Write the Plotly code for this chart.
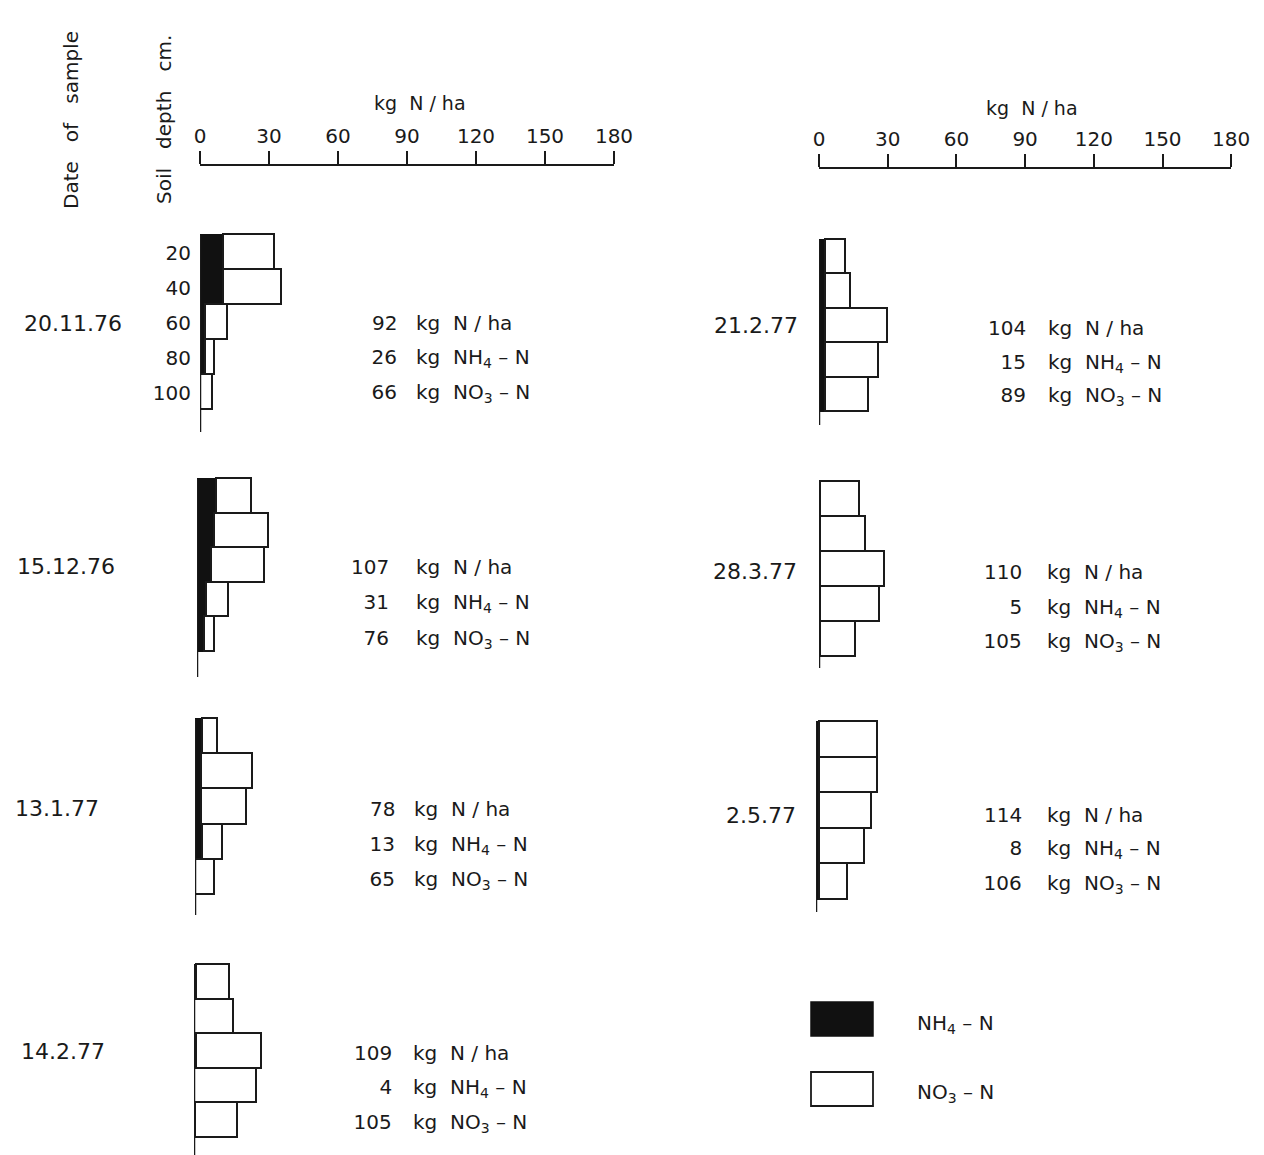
import plotly.graph_objects as go

# ---------------- data ----------------
depths = [20, 40, 60, 80, 100]
dates = ["20.11.76", "15.12.76", "13.1.77", "14.2.77", "21.2.77", "28.3.77", "2.5.77"]
nh4_by_date = [
    [10.5, 10.5, 2.5, 2.5, 0],
    [8.5, 8, 6.5, 4.5, 3.5],
    [3.5, 3, 3, 3.5, 0],
    [1.5, 0, 1.5, 0, 1],
    [3, 3, 3, 3, 3],
    [1, 1, 1, 1, 1],
    [1.6, 1.6, 1.6, 1.6, 1.6],
]
no3_by_date = [
    [22, 25, 9.5, 4, 5.5],
    [15.5, 23.5, 23, 9.5, 4.5],
    [6.5, 22, 19.5, 8.5, 8.5],
    [14, 17.5, 28, 27.5, 18],
    [9, 11, 27, 23, 19],
    [17, 19.5, 28, 25.5, 15],
    [25.4, 25.4, 22.9, 19.9, 12.4],
]
total_n = [92, 107, 78, 109, 104, 110, 114]
total_nh4 = [26, 31, 13, 4, 15, 5, 8]
total_no3 = [66, 76, 65, 105, 89, 105, 106]
x_ticks = [0, 30, 60, 90, 120, 150, 180]

# ---------------- layout geometry (pixels) ----------------
W, H = 1264, 1155
def fx(p): return p / W
def fy(p): return 1 - p / H

# per panel: baseline x, px per kg, bar top, bar bottom, axis-line bottom
panels = [
    (200, 2.30, 235, 410, 432),
    (197, 2.30, 479, 652, 677),
    (195, 2.30, 719, 895, 915),
    (194, 2.30, 965, 1138, 1155),
    (819, 2.29, 240, 412, 425),
    (819, 2.29, 482, 657, 668),
    (816, 2.29, 722, 900, 912),
]
date_pos = [(73, 323, "center"), (66, 566, "center"), (57, 808, "center"), (63, 1051, "center"),
            (800, 326, "right"), (799, 571, "right"), (798, 815, "right")]
summary_pos = [  # number right edge x, text left x, y of 3 lines
    (399, 414, (323, 358, 393)),
    (391, 414, (567, 603, 639)),
    (397, 412, (809, 845, 880)),
    (394, 411, (1053, 1088, 1123)),
    (1028, 1046, (328, 363, 396)),
    (1024, 1045, (572, 608, 642)),
    (1024, 1045, (815, 849, 884)),
]

FONT = "DejaVu Sans"
INK = "#1a1a1a"

fig = go.Figure()
layout = dict(
    width=W, height=H, margin=dict(l=0, r=0, t=0, b=0, pad=0), autosize=False,
    paper_bgcolor="white", plot_bgcolor="rgba(0,0,0,0)",
    barmode="stack", showlegend=False, bargap=0,
    font=dict(family=FONT, color=INK, size=20),
)
annotations = []
shapes = []

centers = [d - 10 for d in depths]
PAD = 3  # px of head-room above the first bar so its outline is not clipped

for i in range(7):
    bx, ppk, top, bot, lbot = panels[i]
    k = i + 1
    xa = "x" if k == 1 else f"x{k}"
    ya = "y" if k == 1 else f"y{k}"
    fig.add_trace(go.Bar(
        orientation="h", y=centers, x=nh4_by_date[i], width=20,
        marker=dict(color="#111111", line=dict(color="#111111", width=1.5)),
        xaxis=xa, yaxis=ya, name="NH4-N"))
    fig.add_trace(go.Bar(
        orientation="h", y=centers, x=no3_by_date[i], width=20,
        marker=dict(color="white", line=dict(color=INK, width=1.8)),
        xaxis=xa, yaxis=ya, name="NO3-N"))

    xkey = "xaxis" if k == 1 else f"xaxis{k}"
    ykey = "yaxis" if k == 1 else f"yaxis{k}"
    x_end = bx + 180 * ppk
    xdict = dict(domain=[fx(bx), fx(x_end)], range=[0, 180], anchor=ya, automargin=False,
                 showgrid=False, zeroline=False, fixedrange=True)
    if k in (1, 5):
        ypos = 165 if k == 1 else 168
        xdict.update(visible=True, anchor="free", position=fy(ypos), side="top",
                     showline=True, linecolor=INK, linewidth=2,
                     ticks="outside", ticklen=13, tickwidth=2, tickcolor=INK,
                     tickvals=x_ticks, ticktext=[str(t) for t in x_ticks],
                     tickfont=dict(size=20, family=FONT, color=INK))
    else:
        xdict.update(visible=False)
    layout[xkey] = xdict

    upp = 100 / (bot - top)           # data units per pixel
    ext = (lbot - top) * upp
    ydict = dict(domain=[fy(lbot), fy(top - PAD)], range=[ext, -PAD * upp], anchor=xa,
                 automargin=False, showline=False, ticks="",
                 showgrid=False, zeroline=False, fixedrange=True)
    if k == 1:
        ydict.update(showticklabels=True, tickvals=centers,
                     ticktext=[str(d) for d in depths], ticklabelstandoff=8,
                     tickfont=dict(size=20, family=FONT, color=INK))
    else:
        ydict.update(showticklabels=False)
    layout[ykey] = ydict

    # vertical baseline of the panel (depth axis)
    shapes.append(dict(type="line", xref=xa, yref=ya, x0=0, x1=0, y0=0, y1=ext,
                       line=dict(color=INK, width=2.5), layer="above"))

    # date label
    dxp, dyp, anc = date_pos[i]
    annotations.append(dict(x=fx(dxp), y=fy(dyp), xref="paper", yref="paper",
                            text=dates[i], showarrow=False, xanchor=anc, yanchor="middle",
                            font=dict(size=22, family=FONT, color=INK)))
    # summary lines
    nxr, txl, ys = summary_pos[i]
    sub_pad = "<sub>\u00a0</sub>"
    rows = [
        (str(total_n[i]), "kg  N / ha", False),
        (str(total_nh4[i]), "kg  NH<sub>4</sub> \u2013 N", True),
        (str(total_no3[i]), "kg  NO<sub>3</sub> \u2013 N", True),
    ]
    for (num, txt, has_sub), yp in zip(rows, ys):
        annotations.append(dict(x=fx(nxr), y=fy(yp), xref="paper", yref="paper",
                                text=(sub_pad + num) if has_sub else num,
                                showarrow=False, xanchor="right", yanchor="middle",
                                font=dict(size=20, family=FONT, color=INK)))
        annotations.append(dict(x=fx(txl), y=fy(yp), xref="paper", yref="paper",
                                text=txt, showarrow=False, xanchor="left", yanchor="middle",
                                font=dict(size=20, family=FONT, color=INK)))

# axis titles
for (ax, ay) in [(420, 103), (1032, 108)]:
    annotations.append(dict(x=fx(ax), y=fy(ay), xref="paper", yref="paper",
                            text="kg  N / ha", showarrow=False, xanchor="center", yanchor="middle",
                            font=dict(size=19, family=FONT, color=INK)))

# rotated headers
annotations.append(dict(x=fx(71), y=fy(120), xref="paper", yref="paper",
                        text="Date   of   sample", textangle=-90, showarrow=False,
                        xanchor="center", yanchor="middle",
                        font=dict(size=20, family=FONT, color=INK)))
annotations.append(dict(x=fx(164), y=fy(120), xref="paper", yref="paper",
                        text="Soil   depth   cm.", textangle=-90, showarrow=False,
                        xanchor="center", yanchor="middle",
                        font=dict(size=20, family=FONT, color=INK)))

# legend
shapes.append(dict(type="rect", xref="paper", yref="paper",
                   x0=fx(811), x1=fx(873), y0=fy(1036), y1=fy(1002),
                   fillcolor="#111111", line=dict(color="#111111", width=1.5)))
shapes.append(dict(type="rect", xref="paper", yref="paper",
                   x0=fx(811), x1=fx(873), y0=fy(1106), y1=fy(1072),
                   fillcolor="white", line=dict(color=INK, width=1.8)))
annotations.append(dict(x=fx(915), y=fy(1024), xref="paper", yref="paper",
                        text="NH<sub>4</sub> \u2013 N", showarrow=False, xanchor="left", yanchor="middle",
                        font=dict(size=20, family=FONT, color=INK)))
annotations.append(dict(x=fx(915), y=fy(1093), xref="paper", yref="paper",
                        text="NO<sub>3</sub> \u2013 N", showarrow=False, xanchor="left", yanchor="middle",
                        font=dict(size=20, family=FONT, color=INK)))

layout["annotations"] = annotations
layout["shapes"] = shapes
fig.update_layout(**layout)
fig.write_html("out.html", config={"displayModeBar": False},
               post_script="document.body.style.margin='0';document.body.style.overflow='hidden';")
